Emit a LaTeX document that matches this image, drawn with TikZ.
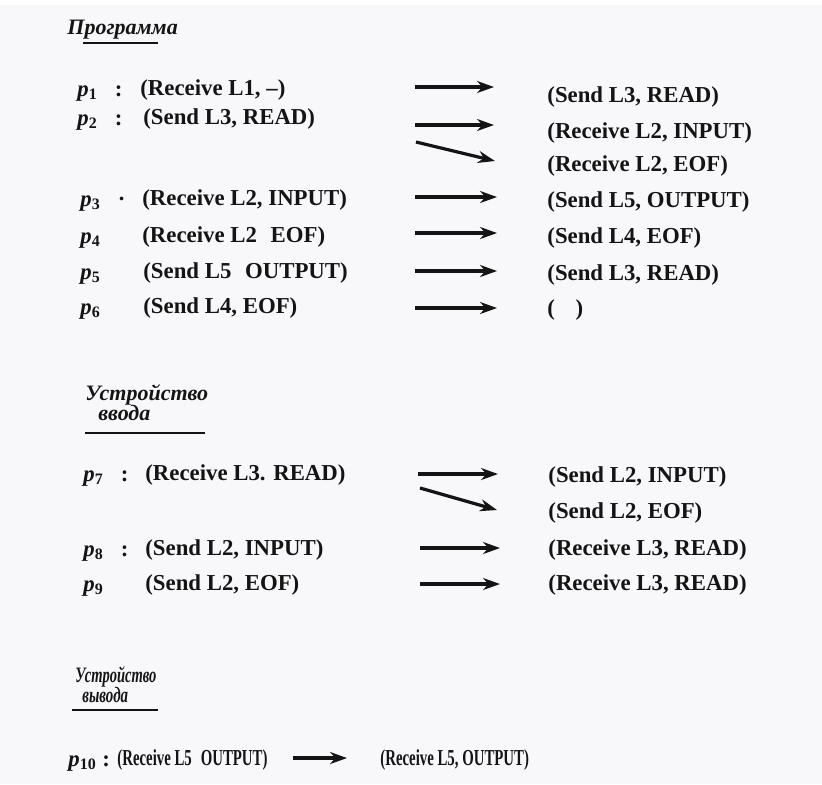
\documentclass[tikz,border=0pt]{standalone}
\usepackage{fontspec}
\usepackage{graphicx}
\setmainfont{Liberation Serif}
\usetikzlibrary{arrows.meta}
\definecolor{pagegrey}{HTML}{F8F7FA}
\definecolor{ink}{HTML}{141414}
\tikzstyle{heading} = [
    anchor=west,
    inner sep=0pt,
    text=ink,
    font=\fontsize{11}{13}\selectfont\bfseries\itshape
]
\tikzstyle{procname} = [
    anchor=base west,
    inner sep=0pt,
    text=ink,
    font=\fontsize{11.4}{13}\selectfont\bfseries
]
\tikzstyle{message} = [
    anchor=west,
    inner sep=0pt,
    text=ink,
    font=\fontsize{11.4}{13}\selectfont\bfseries
]
\tikzstyle{arrow} = [draw=ink, line width=1.6pt, -{Stealth[length=8.5pt, width=6pt]}]
\tikzstyle{underline} = [draw=ink, line width=0.6pt]
\newcommand{\pp}[1]{\textit{p}\textsubscript{#1}}
\newcommand{\narrow}[1]{\scalebox{0.65}[1]{#1}}

\begin{document}
\begin{tikzpicture}[x=0.5pt, y=-0.5pt]

\fill [pagegrey] (0,0) rectangle (822,784);
\fill [white] (0,0) rectangle (822,5);

% Программа
\node (head1) [heading] at (67,30) {Программа};
\draw [underline] (83,43) -- (158,43);

\node (p1) [procname] at (77,96) {\pp{1}\hspace{0.75em}:};
\node (m1) [message] at (140,90) {(Receive L1, –)};
\node (r1) [message] at (547,97) {(Send L3, READ)};
\coordinate (a1s) at (415,87);
\coordinate (a1e) at (494,87);

\node (p2) [procname] at (77,125) {\pp{2}\hspace{0.75em}:};
\node (m2) [message] at (143,119) {(Send L3, READ)};
\node (r2) [message] at (547,133) {(Receive L2, INPUT)};
\node (r2b) [message] at (547,166) {(Receive L2, EOF)};
\coordinate (a2s) at (415,125);
\coordinate (a2e) at (494,125);
\coordinate (a2bs) at (416,142);
\coordinate (a2be) at (495,161);

\node (p3) [procname] at (80,206) {\pp{3}\hspace{0.75em}·};
\node (m3) [message] at (142,200) {(Receive L2, INPUT)};
\node (r3) [message] at (547,202) {(Send L5, OUTPUT)};
\coordinate (a3s) at (415,197);
\coordinate (a3e) at (497,197);

\node (p4) [procname] at (80,243) {\pp{4}};
\node (m4) [message] at (142,237) {(Receive L2\hspace{0.6em}EOF)};
\node (r4) [message] at (547,238) {(Send L4, EOF)};
\coordinate (a4s) at (415,233);
\coordinate (a4e) at (497,233);

\node (p5) [procname] at (80,279) {\pp{5}};
\node (m5) [message] at (143,273) {(Send L5\hspace{0.6em}OUTPUT)};
\node (r5) [message] at (547,275) {(Send L3, READ)};
\coordinate (a5s) at (415,271);
\coordinate (a5e) at (497,271);

\node (p6) [procname] at (80,314) {\pp{6}};
\node (m6) [message] at (143,308) {(Send L4, EOF)};
\node (r6) [message] at (547,310) {(\hspace{0.9em})};
\coordinate (a6s) at (415,308);
\coordinate (a6e) at (497,308);

\draw [arrow] (a1s) -- (a1e);
\draw [arrow] (a2s) -- (a2e);
\draw [arrow] (a2bs) -- (a2be);
\draw [arrow] (a3s) -- (a3e);
\draw [arrow] (a4s) -- (a4e);
\draw [arrow] (a5s) -- (a5e);
\draw [arrow] (a6s) -- (a6e);

% Устройство ввода
\node (head2) [heading] at (85,395) {Устройство};
\node (head2b) [heading] at (98,413) {ввода};
\draw [underline] (85,433) -- (205,433);

\node (p7) [procname] at (83,481) {\pp{7}\hspace{0.75em}:};
\node (m7) [message] at (145,475) {(Receive L3. READ)};
\node (r7) [message] at (548,477) {(Send L2, INPUT)};
\node (r7b) [message] at (548,513) {(Send L2, EOF)};
\coordinate (a7s) at (418,474);
\coordinate (a7e) at (498,474);
\coordinate (a7bs) at (420,488);
\coordinate (a7be) at (497,510);

\node (p8) [procname] at (83,556) {\pp{8}\hspace{0.75em}:};
\node (m8) [message] at (145,550) {(Send L2, INPUT)};
\node (r8) [message] at (548,550) {(Receive L3, READ)};
\coordinate (a8s) at (420,548);
\coordinate (a8e) at (500,548);

\node (p9) [procname] at (83,591) {\pp{9}};
\node (m9) [message] at (145,585) {(Send L2, EOF)};
\node (r9) [message] at (548,585) {(Receive L3, READ)};
\coordinate (a9s) at (420,584);
\coordinate (a9e) at (500,584);

\draw [arrow] (a7s) -- (a7e);
\draw [arrow] (a7bs) -- (a7be);
\draw [arrow] (a8s) -- (a8e);
\draw [arrow] (a9s) -- (a9e);

% Устройство вывода
\node (head3) [heading] at (75,677) {\scalebox{0.66}[1]{Устройство}};
\node (head3b) [heading] at (82,695) {\scalebox{0.68}[1]{вывода}};
\draw [underline] (72,710) -- (158,710);

\node (p10) [procname] at (68,766) {\pp{10}\hspace{0.25em}:};
\node (m10) [message] at (117,760) {\narrow{(Receive L5\hspace{0.6em}OUTPUT)}};
\node (r10) [message] at (380,760) {\narrow{(Receive L5, OUTPUT)}};
\coordinate (a10s) at (293,758);
\coordinate (a10e) at (347,758);

\draw [arrow] (a10s) -- (a10e);

\end{tikzpicture}
\end{document}
